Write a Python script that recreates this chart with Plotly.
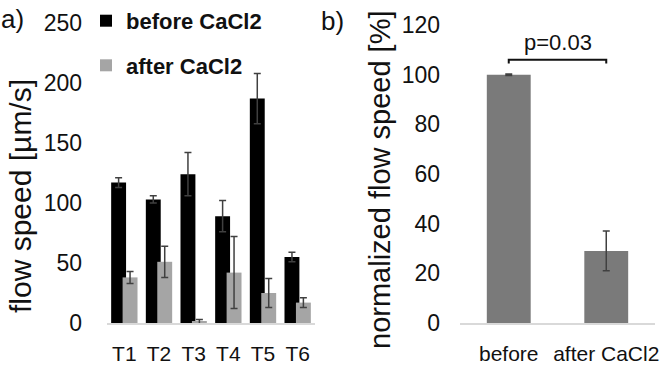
import plotly.graph_objects as go

# Panel a data
trials = ["T1", "T2", "T3", "T4", "T5", "T6"]
before_vals = [117, 103, 124, 89, 187, 55]
before_err = [4, 3, 18, 13, 21, 4]
after_vals = [38, 51, 1, 42, 25, 17]
after_err = [5, 13, 2, 30, 12, 4]

# Panel b data
norm_cats = ["before", "after CaCl2"]
norm_vals = [100, 29]
norm_err = [0.3, 8]
p_text = "p=0.03"
bracket_y = [104.5, 106, 106, 104.5]

W, H = 660, 366
TXT = "#111111"
ERR = "#404040"

fig = go.Figure()

fig.add_trace(go.Bar(
    x=trials, y=before_vals, name="before CaCl2",
    marker=dict(color="#000000", line=dict(width=0)),
    error_y=dict(type="data", array=before_err, color=ERR, thickness=1.5, width=3.5),
    offset=-0.38, width=0.43, xaxis="x", yaxis="y", legendgroup="a",
))
fig.add_trace(go.Bar(
    x=trials, y=after_vals, name="after CaCl2",
    marker=dict(color="#a5a5a5", line=dict(width=0)),
    error_y=dict(type="data", array=after_err, color=ERR, thickness=1.5, width=3.5),
    offset=-0.05, width=0.43, xaxis="x", yaxis="y", legendgroup="b",
))
fig.add_trace(go.Bar(
    x=norm_cats, y=norm_vals, showlegend=False,
    marker=dict(color="#7a7a7a", line=dict(width=0)),
    error_y=dict(type="data", array=norm_err, color=ERR, thickness=1.5, width=3.5),
    width=0.45, xaxis="x2", yaxis="y2",
))
fig.add_trace(go.Scatter(
    x=[norm_cats[0], norm_cats[0], norm_cats[1], norm_cats[1]], y=bracket_y,
    mode="lines", line=dict(color="#111111", width=2), showlegend=False,
    hoverinfo="skip", xaxis="x2", yaxis="y2",
))

axis_common = dict(showgrid=False, zeroline=False, showline=False, ticks="", automargin=False)
fig.update_layout(
    width=W, height=H,
    margin=dict(l=0, r=0, t=23, b=43, autoexpand=False),
    paper_bgcolor="white", plot_bgcolor="white",
    barmode="overlay",
    font=dict(family="Arial, Liberation Sans, sans-serif", color=TXT, size=22),
    xaxis=dict(domain=[107 / W, 315 / W], showline=True, linecolor="#d9d9d9", linewidth=1.5,
               showgrid=False, ticks="", tickfont=dict(size=21),
               ticklabelstandoff=11, anchor="y", automargin=False),
    yaxis=dict(range=[0, 250], tickvals=[0, 50, 100, 150, 200, 250], **axis_common,
               tickfont=dict(size=23), ticklabelstandoff=24, anchor="x"),
    xaxis2=dict(domain=[460 / W, 655 / W], showline=True, linecolor="#d9d9d9", linewidth=1.5,
                showgrid=False, ticks="", tickfont=dict(size=21),
                ticklabelstandoff=11, anchor="y2", automargin=False),
    yaxis2=dict(range=[0, 120], tickvals=[0, 20, 40, 60, 80, 100, 120], **axis_common,
                tickfont=dict(size=23), ticklabelstandoff=19, anchor="x2",
                domain=[0, 0.9933]),
    legend=dict(x=86 / W, y=1.077, xanchor="left", yanchor="top",
                font=dict(size=22, weight="bold", color=TXT),
                tracegroupgap=13, bgcolor="rgba(0,0,0,0)"),
    showlegend=True,
    annotations=[
        dict(text="flow speed [µm/s]", textangle=-90, x=20 / W, y=(323 - 196) / 300,
             xref="paper", yref="paper", xanchor="center", yanchor="middle",
             showarrow=False, font=dict(size=30, color=TXT)),
        dict(text="normalized flow speed [%]", textangle=-90, x=380 / W, y=(323 - 180) / 300,
             xref="paper", yref="paper", xanchor="center", yanchor="middle",
             showarrow=False, font=dict(size=29, color=TXT)),
        dict(text="a)", x=12 / W, y=(323 - 19) / 300, xref="paper", yref="paper",
             xanchor="center", yanchor="middle",
             showarrow=False, font=dict(size=26, color=TXT)),
        dict(text="b)", x=332 / W, y=(323 - 21) / 300, xref="paper", yref="paper",
             xanchor="center", yanchor="middle",
             showarrow=False, font=dict(size=26, color=TXT)),
        dict(text=p_text, x=0.5, y=113, xref="x2", yref="y2",
             xanchor="center", yanchor="middle",
             showarrow=False, font=dict(size=22, color=TXT)),
    ],
)

fig.write_html("out.html", config={"displayModeBar": False},
               post_script="document.body.style.margin='0';document.body.style.overflow='hidden';")
